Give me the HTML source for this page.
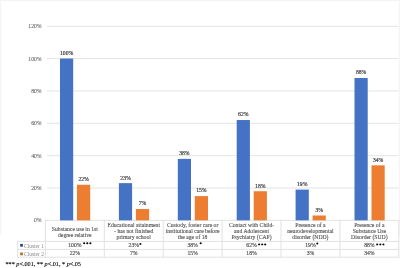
<!DOCTYPE html>
<html><head><meta charset="utf-8"><style>
html,body{margin:0;padding:0;background:#fff;}
body{width:400px;height:268px;overflow:hidden;position:relative;font-family:"Liberation Serif",serif;filter:blur(0.4px);}
svg{position:absolute;left:0;top:0;}
div{position:absolute;white-space:nowrap;}
.yl{right:358.4px;font-size:5.7px;line-height:6px;color:#666;-webkit-text-stroke:0.1px #666;}
.dl{width:20px;text-align:center;font-size:5.7px;line-height:6px;color:#404040;-webkit-text-stroke:0.2px #404040;}
.cat{top:221.4px;height:20px;display:flex;align-items:center;justify-content:center;text-align:center;font-size:5.7px;line-height:6.2px;color:#555;-webkit-text-stroke:0.12px #555;white-space:normal;}
.dv{width:30px;text-align:center;font-size:5.7px;line-height:6px;color:#4a4a4a;-webkit-text-stroke:0.15px #4a4a4a;}
.lt{font-size:5.5px;line-height:6px;color:#888;}
.fn{left:5.5px;top:260px;font-size:6.2px;line-height:7px;color:#000;-webkit-text-stroke:0.1px #000;}
</style></head><body>
<svg width="400" height="268" viewBox="0 0 400 268">
<rect x="0" y="0" width="400" height="1.2" fill="#f4f4f4"/>
<rect x="0" y="0" width="1.2" height="235" fill="#f5f5f5"/>
<rect x="398.8" y="0" width="1.2" height="235" fill="#f5f5f5"/>
<rect x="47" y="25.75" width="351.80" height="1" fill="#e4e4e4"/>
<rect x="47" y="58.10" width="351.80" height="1" fill="#e4e4e4"/>
<rect x="47" y="90.45" width="351.80" height="1" fill="#e4e4e4"/>
<rect x="47" y="122.80" width="351.80" height="1" fill="#e4e4e4"/>
<rect x="47" y="155.15" width="351.80" height="1" fill="#e4e4e4"/>
<rect x="47" y="187.50" width="351.80" height="1" fill="#e4e4e4"/>
<rect x="44.90" y="219.85" width="354.40" height="1" fill="#e2e2e2"/>
<rect x="17.1" y="240.90" width="382.20" height="1" fill="#e2e2e2"/>
<rect x="17.1" y="248.90" width="382.20" height="1" fill="#e2e2e2"/>
<rect x="17.1" y="256.70" width="382.20" height="1" fill="#e2e2e2"/>
<rect x="44.90" y="219.85" width="1" height="37.85" fill="#e2e2e2"/>
<rect x="103.80" y="219.85" width="1" height="37.85" fill="#e2e2e2"/>
<rect x="162.70" y="219.85" width="1" height="37.85" fill="#e2e2e2"/>
<rect x="221.60" y="219.85" width="1" height="37.85" fill="#e2e2e2"/>
<rect x="280.50" y="219.85" width="1" height="37.85" fill="#e2e2e2"/>
<rect x="339.40" y="219.85" width="1" height="37.85" fill="#e2e2e2"/>
<rect x="398.30" y="219.85" width="1" height="37.85" fill="#e2e2e2"/>
<rect x="17.1" y="240.90" width="1" height="16.80" fill="#e2e2e2"/>
<rect x="60.00" y="58.55" width="13.2" height="161.80" fill="#4472c4"/>
<rect x="77.00" y="184.75" width="13.2" height="35.60" fill="#ed7d31"/>
<rect x="118.90" y="183.14" width="13.2" height="37.21" fill="#4472c4"/>
<rect x="135.90" y="209.02" width="13.2" height="11.33" fill="#ed7d31"/>
<rect x="177.80" y="158.87" width="13.2" height="61.48" fill="#4472c4"/>
<rect x="194.80" y="196.08" width="13.2" height="24.27" fill="#ed7d31"/>
<rect x="236.70" y="120.03" width="13.2" height="100.32" fill="#4472c4"/>
<rect x="253.70" y="191.23" width="13.2" height="29.12" fill="#ed7d31"/>
<rect x="295.60" y="189.61" width="13.2" height="30.74" fill="#4472c4"/>
<rect x="312.60" y="215.50" width="13.2" height="4.85" fill="#ed7d31"/>
<rect x="354.50" y="77.97" width="13.2" height="142.38" fill="#4472c4"/>
<rect x="371.50" y="165.34" width="13.2" height="55.01" fill="#ed7d31"/>
<ellipse cx="84.2" cy="243.2" rx="1.05" ry="0.95" fill="#000"/>
<ellipse cx="87.3" cy="243.2" rx="1.05" ry="0.95" fill="#000"/>
<ellipse cx="90.4" cy="243.2" rx="1.05" ry="0.95" fill="#000"/>
<ellipse cx="140.4" cy="243.9" rx="1.05" ry="0.95" fill="#000"/>
<ellipse cx="200.7" cy="243.3" rx="1.05" ry="0.95" fill="#000"/>
<ellipse cx="259.1" cy="244.4" rx="1.05" ry="0.95" fill="#000"/>
<ellipse cx="262.2" cy="244.4" rx="1.05" ry="0.95" fill="#000"/>
<ellipse cx="265.2" cy="244.4" rx="1.05" ry="0.95" fill="#000"/>
<ellipse cx="317.3" cy="243.5" rx="1.05" ry="0.95" fill="#000"/>
<ellipse cx="377.2" cy="244.4" rx="1.05" ry="0.95" fill="#000"/>
<ellipse cx="380.3" cy="244.4" rx="1.05" ry="0.95" fill="#000"/>
<ellipse cx="383.4" cy="244.4" rx="1.05" ry="0.95" fill="#000"/>
<rect x="20.1" y="243.9" width="2.8" height="2.8" fill="#2f4b8c"/>
<rect x="20.1" y="252.5" width="2.8" height="2.8" fill="#b8702c"/>
</svg>
<div class="yl" style="top:23.25px">120%</div>
<div class="yl" style="top:55.60px">100%</div>
<div class="yl" style="top:87.95px">80%</div>
<div class="yl" style="top:120.30px">60%</div>
<div class="yl" style="top:152.65px">40%</div>
<div class="yl" style="top:185.00px">20%</div>
<div class="yl" style="top:217.35px">0%</div>
<div class="dl" style="left:56.60px;top:49.95px">100%</div>
<div class="dl" style="left:73.60px;top:176.15px">22%</div>
<div class="dl" style="left:115.50px;top:174.54px">23%</div>
<div class="dl" style="left:132.50px;top:200.42px">7%</div>
<div class="dl" style="left:174.40px;top:150.27px">38%</div>
<div class="dl" style="left:191.40px;top:187.48px">15%</div>
<div class="dl" style="left:233.30px;top:111.43px">62%</div>
<div class="dl" style="left:250.30px;top:182.63px">18%</div>
<div class="dl" style="left:292.20px;top:181.01px">19%</div>
<div class="dl" style="left:309.20px;top:206.90px">3%</div>
<div class="dl" style="left:351.10px;top:69.37px">88%</div>
<div class="dl" style="left:368.10px;top:156.74px">34%</div>
<div class="cat" style="left:45.40px;width:58.9px;top:221.9px">Substance use in 1st<br>degree relative</div>
<div class="cat" style="left:104.30px;width:58.9px;top:221.4px">Educational attainment<br>- has not finished<br>primary school</div>
<div class="cat" style="left:163.20px;width:58.9px;top:221.4px">Custody, foster care or<br>institutional care before<br>the age of 18</div>
<div class="cat" style="left:222.10px;width:58.9px;top:221.4px">Contact with Child-<br>and Adolescent<br>Psychiatry (CAP)</div>
<div class="cat" style="left:281.00px;width:58.9px;top:221.4px">Presence of a<br>neurodevelopmental<br>disorder (NDD)</div>
<div class="cat" style="left:339.90px;width:58.9px;top:221.4px">Presence of a<br>Substance Use<br>Disorder (SUD)</div>
<div class="dv" style="left:59.85px;top:242px">100%</div>
<div class="dv" style="left:59.85px;top:250px">22%</div>
<div class="dv" style="left:118.75px;top:242px">23%</div>
<div class="dv" style="left:118.75px;top:250px">7%</div>
<div class="dv" style="left:177.65px;top:242px">38%</div>
<div class="dv" style="left:177.65px;top:250px">15%</div>
<div class="dv" style="left:236.55px;top:242px">62%</div>
<div class="dv" style="left:236.55px;top:250px">18%</div>
<div class="dv" style="left:295.45px;top:242px">19%</div>
<div class="dv" style="left:295.45px;top:250px">3%</div>
<div class="dv" style="left:354.35px;top:242px">88%</div>
<div class="dv" style="left:354.35px;top:250px">34%</div>
<div class="lt" style="left:24px;top:242.5px">Cluster 1</div>
<div class="lt" style="left:24px;top:250.5px">Cluster 2</div>
<div class="fn">*** <i>p</i>&lt;.001, ** <i>p</i>&lt;.01, * <i>p</i>&lt;.05</div>
</body></html>
